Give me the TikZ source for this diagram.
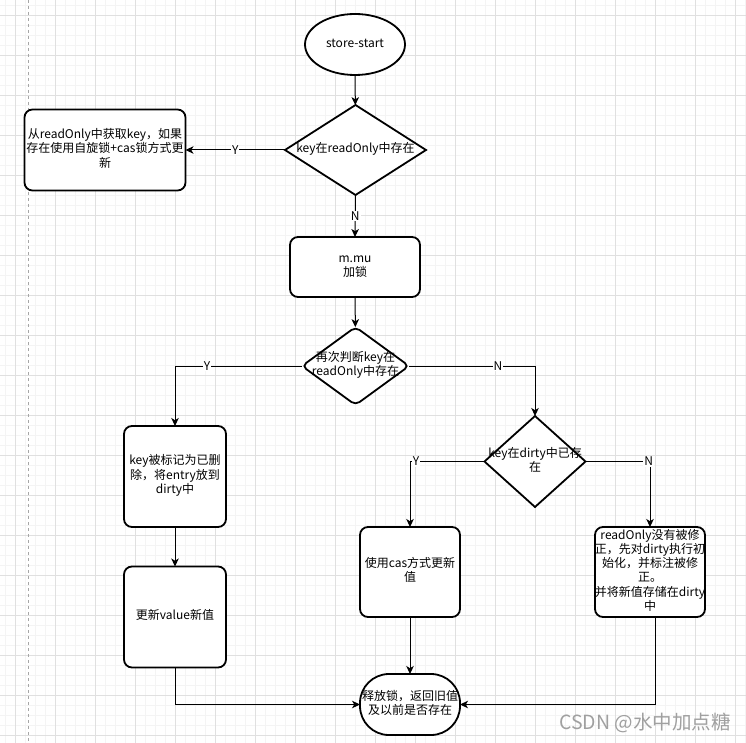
\documentclass[tikz,border=0pt]{standalone}
\usepackage{fontspec}
\setmainfont{Noto Sans CJK SC}
\usetikzlibrary{shapes.geometric,arrows.meta}
\definecolor{gmaj}{HTML}{E0E0E0}
\definecolor{gmin}{HTML}{F4F4F4}
\definecolor{wm}{HTML}{A0A0A0}
\newcommand\zt[1]{\raisebox{-5.5pt}{\smash{\makebox[0pt]{\begin{tabular}{@{}c@{}}#1\end{tabular}}}}}
\begin{document}
\begin{tikzpicture}[x=1pt,y=-1pt, font=\fontsize{12}{14}\selectfont,
  shp/.style={draw, line width=1.8pt, fill=white, inner sep=0pt, outer sep=0pt},
  box/.style={shp, rectangle, rounded corners=8pt},
  dia/.style={shp, diamond},
  conn/.style={line width=1pt, -{Stealth[length=8pt,width=7.5pt,inset=2.2pt]}},
  lbl/.style={fill=white, inner sep=1pt}]
\useasboundingbox (0,0) rectangle (746,743);
\fill[white] (0,0) rectangle (746,743);
\foreach \i in {5,15,...,745} {
  \draw[gmin, line width=0.6pt] (\i,0) -- (\i,743);
  \draw[gmin, line width=0.6pt] (0,\i) -- (746,\i);
}
\foreach \i in {15,55,...,735} {
  \draw[gmaj, line width=0.8pt] (\i,0) -- (\i,743);
  \draw[gmaj, line width=0.8pt] (0,\i) -- (746,\i);
}
\draw[gray!70, dashed, line width=0.8pt] (28.5,0) -- (28.5,743);

\node[shp, ellipse, minimum width=100, minimum height=61] (start) at (355,44.5) {\zt{store-start}};
\node[dia, minimum width=141, minimum height=90] (d1) at (355.5,150) {\zt{key在readOnly中存在}};
\node[box, minimum width=161, minimum height=81] (b0) at (105,150) {\zt{从readOnly中获取key，如果\\存在使用自旋锁+cas锁方式更\\新}};
\node[box, minimum width=130, minimum height=60] (lock) at (355,267) {\zt{m.mu\\加锁}};
\node[dia, rounded corners=5pt, minimum width=107, minimum height=78] (d2) at (355.5,366) {\zt{再次判断key在\\readOnly中存在}};
\node[dia, minimum width=101, minimum height=91] (d3) at (535,461.5) {\zt{key在dirty中已存\\在}};
\node[box, minimum width=102, minimum height=101] (b1) at (175,476.5) {\zt{key被标记为已删\\除，将entry放到\\dirty中}};
\node[box, minimum width=102, minimum height=101] (b2) at (175,617) {\zt{更新value新值}};
\node[box, minimum width=100, minimum height=90] (b3) at (410,572) {\zt{使用cas方式更新\\值}};
\node[box, minimum width=110, minimum height=90] (b4) at (650,572) {\zt{readOnly没有被修\\正，先对dirty执行初\\始化，并标注被修\\正。\\并将新值存储在dirty\\中}};
\node[shp, rectangle, rounded corners=29pt, minimum width=100, minimum height=61] (end) at (410,704.5) {\zt{释放锁，返回旧值\\及以前是否存在}};

\draw[conn] (start) -- (d1);
\draw[conn] (d1.west) -- node[lbl]{Y} (b0.east);
\draw[conn] (d1.south) -- node[lbl]{N} (lock.north);
\draw[conn] (lock) -- (d2);
\draw[conn] (d2.west) -| node[lbl, pos=0.374]{Y} (b1.north);
\draw[conn] (d2.east) -| node[lbl, pos=0.353]{N} (d3.north);
\draw[conn] (d3.west) -| node[lbl, pos=0.46]{Y} (b3.north);
\draw[conn] (d3.east) -| node[lbl, pos=0.49]{N} (b4.north);
\draw[conn] (b1) -- (b2);
\draw[conn] (b3) -- (end);
\draw[conn] (b2.south) |- (end.west);
\draw[conn] ([xshift=5pt]b4.south) |- (end.east);

\node[text=wm, font=\fontsize{19.5}{20}\selectfont, anchor=east, inner sep=0pt] (wm) at (731,723) {CSDN @水中加点糖};
\end{tikzpicture}
\end{document}
